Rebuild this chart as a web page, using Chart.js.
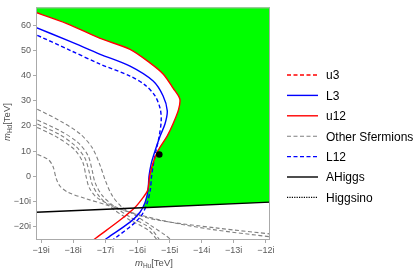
<!DOCTYPE html>
<html>
<head>
<meta charset="utf-8">
<script src="https://cdn.jsdelivr.net/npm/chart.js@4"></script>
<style>
  html, body { margin: 0; padding: 0; background: #fff; }
  #wrap { width: 420px; height: 270px; }
</style>
</head>
<body>
<div id="wrap"><canvas id="chart" width="420" height="270"></canvas></div>
<script>
// ====== AXES ======
const xMin = -19.16, xMax = -11.87;
const yMin = -25.2, yMax = 67;
const xTicks = [-19, -18, -17, -16, -15, -14, -13, -12];
const yTicks = [-20, -10, 0, 10, 20, 30, 40, 50, 60];

// ====== CURVES [mHu, mHd] ======
const u12 = [[-19.3,65.6],[-18.2,60.6],[-17.16,54.7],[-16.23,50.4],[-15.6,44.9],[-15.2,40.6],
  [-14.89,35.0],[-14.68,30.7],[-14.72,26.5],[-14.89,20.9],[-15.07,16.1],[-15.36,10.2],
  [-15.52,5.1],[-15.62,0],[-15.68,-5.5],[-15.82,-8.3],[-16.07,-12.2],[-16.54,-17.3],[-17.29,-24.4],[-17.4,-25.5]];
const l3 = [[-19.3,59.8],[-18.1,53.5],[-17.16,48.4],[-16.23,43.7],[-15.51,37.8],[-15.2,31.9],
  [-15.07,26.0],[-15.14,20.9],[-15.29,16.1],[-15.45,10.2],[-15.57,5.1],[-15.64,0],[-15.67,-5.5],
  [-15.76,-10.2],[-15.92,-14.2],[-16.23,-18.1],[-16.94,-24.4],[-17.05,-25.5]];
const l12 = [[-19.3,57.0],[-18.1,50.0],[-17.16,44.5],[-16.23,39.8],[-15.76,36.2],[-15.45,31.9],
  [-15.29,26.8],[-15.26,22.0],[-15.32,16.1],[-15.42,10.2],[-15.51,4.3],[-15.56,0],[-15.6,-5.5],
  [-15.7,-10.6],[-15.85,-15.0],[-16.13,-18.9],[-16.69,-24.4],[-16.8,-25.5]];
const u3 = [];
const aHiggs = [[-19.3,-14.3],[-11.7,-10.1]];
const higgsino = [];
const sfermionA = [[-19.3,9.6],[-18.78,6.7],[-18.63,3.9],[-18.53,-0.8],[-18.41,-3.9],[-18.16,-6.3],
  [-17.63,-8.7],[-16.94,-11.4],[-16.23,-14.2],[-15.14,-17.7],[-13.74,-20.9],[-11.7,-24.2]];
const sfermionB = [[-19.3,27.8],[-18.41,22.0],[-17.79,16.9],[-17.41,11.4],[-17.16,4.3],[-17.0,-1.6],
  [-16.79,-7.5],[-16.48,-12.2],[-16.07,-15.4],[-15.6,-19.3],[-15.14,-23.2],[-14.92,-25.5]];
const sfermionC = [[-19.3,23.4],[-18.41,18.1],[-17.85,13.4],[-17.54,8.3],[-17.41,2.4],[-17.32,-2.4],
  [-17.1,-7.5],[-16.69,-12.2],[-16.23,-16.1],[-15.6,-20.5],[-15.29,-25.5]];
const sfermionD = [[-19.3,21.8],[-18.41,16.5],[-17.91,11.8],[-17.63,7.1],[-17.5,1.6],[-17.41,-3.1],
  [-17.19,-7.9],[-16.79,-12.6],[-16.29,-16.9],[-15.66,-21.3],[-15.36,-25.5]];
const sfermionE = [[-19.3,20.5],[-18.5,15.5],[-17.95,10.5],[-17.7,5.5],[-17.6,0],[-17.5,-4.5],
  [-17.25,-8.5],[-16.5,-13.0],[-15.5,-17.0],[-13.5,-20.5],[-11.7,-23.0]];
// allowed region, bounded by u12, L3 and the AHiggs line (corners doubled to keep them sharp)
const allowed = [[-19.3,70],[-19.3,70],[-19.3,65.6],[-19.3,65.6],[-18.2,60.6],[-17.16,54.7],[-16.23,50.4],
  [-15.6,44.9],[-15.2,40.6],[-14.89,35.0],[-14.68,30.7],[-14.72,26.5],[-14.89,20.9],[-15.07,16.1],
  [-15.36,10.2],[-15.52,5.1],[-15.62,0],[-15.67,-5.5],[-15.76,-10.2],[-15.84,-12.4],[-15.84,-12.4],
  [-11.7,-10.1],[-11.7,-10.1],[-11.7,70],[-11.7,70]];
const benchmark = [[-15.32, 8.7]];

const pts = arr => arr.map(p => ({ x: p[0], y: p[1] }));
const grey = "rgb(128,128,128)";

function curve(label, data, color, dash, width, order) {
  return {
    label: label,
    data: pts(data),
    showLine: true,
    borderColor: color,
    backgroundColor: color,
    borderWidth: width,
    borderDash: dash,
    pointRadius: 0,
    tension: 0.3,
    fill: false,
    clip: 0,
    order: order
  };
}

const sfermionSets = [sfermionA, sfermionB, sfermionC, sfermionD, sfermionE].map((s, i) => {
  const d = curve(i === 0 ? "Other Sfermions" : "", s, grey, [4, 2.5], 1.1, 5);
  d.legend = i === 0;
  return d;
});

const datasets = [
  Object.assign(curve("u3", u3, "rgb(255,0,0)", [4, 2.5], 1.4, 3), { legend: true }),
  Object.assign(curve("L3", l3, "rgb(0,0,255)", [], 1.4, 3), { legend: true }),
  Object.assign(curve("u12", u12, "rgb(255,0,0)", [], 1.4, 2), { legend: true }),
  sfermionSets[0],
  Object.assign(curve("L12", l12, "rgb(0,0,255)", [4, 2.5], 1.4, 3), { legend: true }),
  Object.assign(curve("AHiggs", aHiggs, "#000", [], 1.4, 1), { legend: true }),
  Object.assign(curve("Higgsino", higgsino, "#000", [1.2, 1.2], 1.2, 1), { legend: true }),
  ...sfermionSets.slice(1),
  {
    label: "",
    data: pts(allowed),
    showLine: true,
    borderWidth: 0,
    pointRadius: 0,
    tension: 0.3,
    backgroundColor: "rgb(0,255,0)",
    fill: "shape",
    clip: 0,
    order: 50
  },
  {
    label: "",
    data: pts(benchmark),
    showLine: false,
    pointRadius: 3.3,
    backgroundColor: "#000",
    borderWidth: 0,
    order: -1
  }
];

// ====== FRAME + AXIS TITLES + LEGEND ======
const decor = {
  id: "decor",
  afterDraw(chart) {
    const c = chart.ctx;
    const a = chart.chartArea;
    c.save();
    c.strokeStyle = "rgb(170,170,170)";
    c.lineWidth = 1;
    c.strokeRect(a.left + 0.5, a.top + 0.5, a.right - a.left - 1, a.bottom - a.top - 1);

    // axis titles
    c.fillStyle = "rgb(80,80,80)";
    c.textBaseline = "alphabetic";
    const title = (x, y, sub) => {
      c.font = "italic 9.5px 'Liberation Sans'";
      c.textAlign = "left";
      c.fillText("m", x, y);
      let w = c.measureText("m").width;
      c.font = "6.5px 'Liberation Sans'";
      c.fillText(sub, x + w, y + 2);
      w += c.measureText(sub).width;
      c.font = "9.5px 'Liberation Sans'";
      c.fillText("[TeV]", x + w, y);
    };
    title(135, 266, "Hu");
    c.save();
    c.translate(10, 141);
    c.rotate(-Math.PI / 2);
    title(0, 0, "Hd");
    c.restore();

    // legend
    let y = 75;
    chart.data.datasets.filter(d => d.legend).forEach(d => {
      c.strokeStyle = d.borderColor;
      c.lineWidth = d.borderWidth;
      c.setLineDash(d.borderDash);
      c.beginPath();
      c.moveTo(287, y);
      c.lineTo(318, y);
      c.stroke();
      c.setLineDash([]);
      c.fillStyle = "#000";
      c.font = "12px 'Liberation Sans'";
      c.textAlign = "left";
      c.textBaseline = "middle";
      c.fillText(d.label, 326, y + 1);
      y += 20.4;
    });
    c.restore();
  }
};

const ctx = document.getElementById("chart").getContext("2d");
const chart = new Chart(ctx, {
  type: "scatter",
  data: { datasets: datasets },
  options: {
    responsive: false,
    animation: false,
    devicePixelRatio: 1,
    layout: { padding: { top: 6, left: 0, right: 150, bottom: 0 } },
    plugins: { legend: { display: false }, tooltip: { enabled: false } },
    scales: {
      x: {
        type: "linear",
        min: xMin,
        max: xMax,
        afterBuildTicks: s => { s.ticks = xTicks.map(v => ({ value: v })); },
        afterFit: s => { s.height = 30; },
        grid: { drawOnChartArea: false, tickLength: 3, color: "rgb(170,170,170)" },
        border: { display: false },
        ticks: {
          padding: 2,
          color: "rgb(90,90,90)",
          font: { family: "Liberation Sans", size: 9 },
          callback: v => "\u2212" + Math.abs(v) + "i"
        }
      },
      y: {
        type: "linear",
        min: yMin,
        max: yMax,
        afterBuildTicks: s => { s.ticks = yTicks.map(v => ({ value: v })); },
        afterFit: s => { s.width = 36; },
        grid: { drawOnChartArea: false, tickLength: 3, color: "rgb(170,170,170)" },
        border: { display: false },
        ticks: {
          padding: 2,
          color: "rgb(90,90,90)",
          font: { family: "Liberation Sans", size: 9 },
          callback: v => v < 0 ? "\u2212" + Math.abs(v) + "i" : String(v)
        }
      }
    }
  },
  plugins: [decor]
});
</script>
</body>
</html>
